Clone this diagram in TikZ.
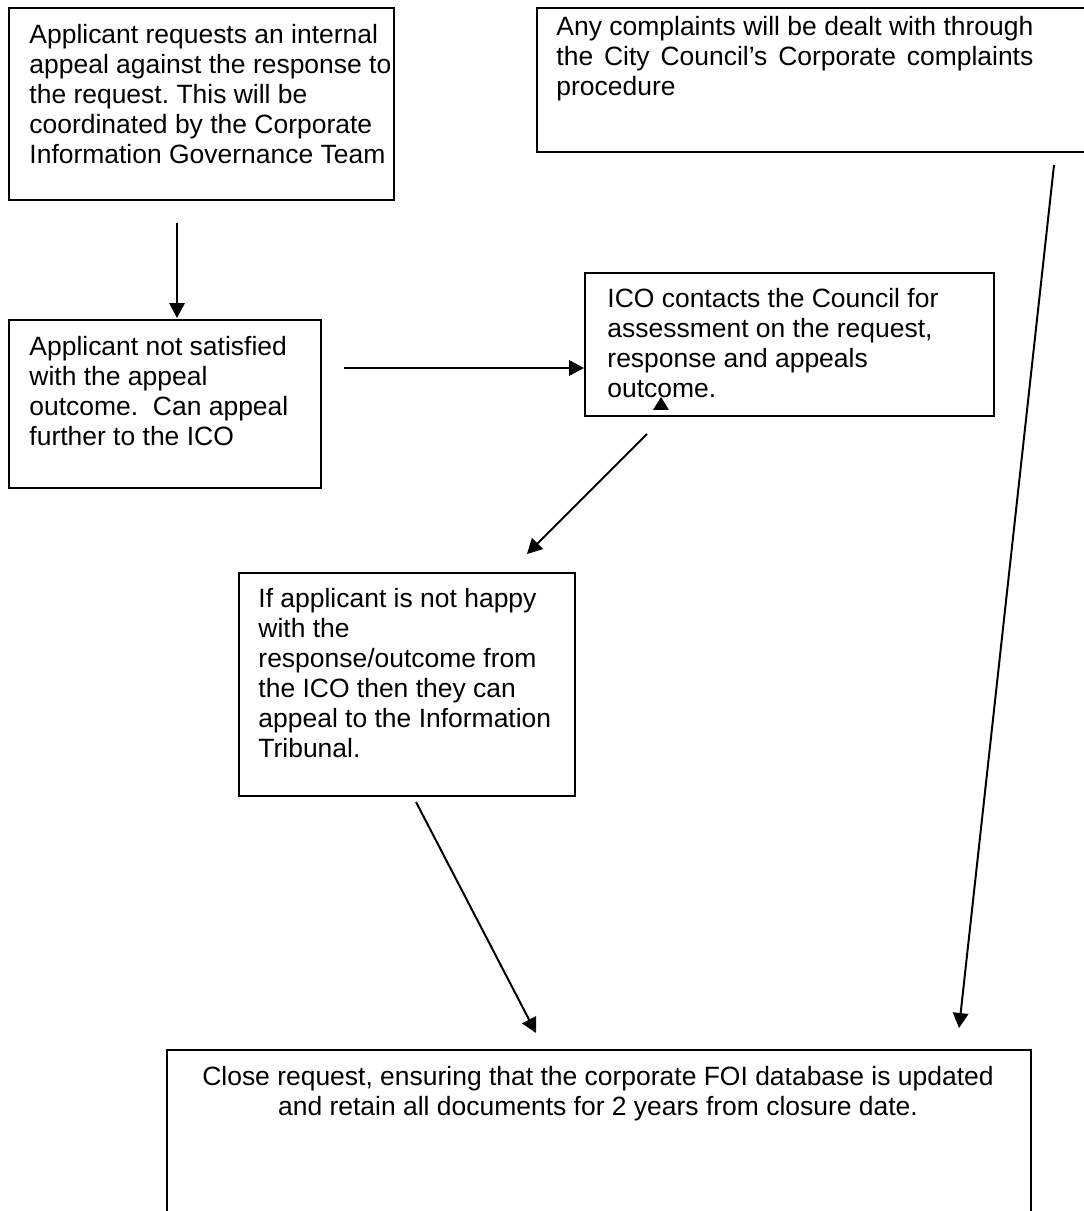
\documentclass[tikz,border=0pt]{standalone}
\usepackage{fontspec}
\setmainfont{Liberation Sans}
\usetikzlibrary{arrows.meta}
\def\u{0.4535pt}
\frenchspacing
\begin{document}
\begin{tikzpicture}[x=0.4535pt,y=-0.4535pt,
  box/.style={draw, line width=0.8pt, inner sep=0pt, anchor=north west},
  txt/.style={font=\fontsize{12}{13.6}\selectfont\frenchspacing, inner sep=0pt, align=left, anchor=north west},
  arr/.style={line width=0.9pt, -{Triangle[length=6.8pt,width=7pt]}}]
\useasboundingbox (0,0) rectangle (1084,1211);
\clip (0,0) rectangle (1084,1211);
% boxes
\node[box, minimum width=385*\u, minimum height=192*\u] (b1) at (8,7) {};
\node[box, minimum width=570*\u, minimum height=144*\u] (b2) at (536,7) {};
\node[box, minimum width=312*\u, minimum height=168*\u] (b3) at (8,319) {};
\node[box, minimum width=409*\u, minimum height=143*\u] (b4) at (584,272) {};
\node[box, minimum width=336*\u, minimum height=223*\u] (b5) at (238,572) {};
\node[box, minimum width=864*\u, minimum height=220*\u] (b6) at (166,1049) {};
% texts
\node[txt] (t1) at (29,24) {Applicant requests an internal\\appeal against the response to\\the request. This will be\\coordinated by the Corporate\\Information Governance Team};
\node[txt] (t2) at (556,16) {\makebox[216.3pt][s]{Any complaints will be dealt with through}\\\makebox[216.3pt][s]{the City Council’s Corporate complaints}\\procedure};
\node[txt] (t3) at (29,336) {Applicant not satisfied\\with the appeal\\outcome.\ \ Can appeal\\further to the ICO};
\node[txt] (t4) at (607,288) {ICO contacts the Council for\\assessment on the request,\\response and appeals\\outcome.};
\node[txt] (t5) at (258,588) {If applicant is not happy\\with the\\response/outcome from\\the ICO then they can\\appeal to the Information\\Tribunal.};
\node[txt, align=center, anchor=north] (t6) at (598,1066) {Close request, ensuring that the corporate FOI database is updated\\and retain all documents for 2 years from closure date.};
% connector end points
\coordinate (a1s) at (177,223); \coordinate (a1e) at (177,318);
\coordinate (a2s) at (344,368); \coordinate (a2e) at (584,368);
\coordinate (a3s) at (647,434); \coordinate (a3e) at (527,554);
\coordinate (a4s) at (416,802); \coordinate (a4e) at (536,1033);
\coordinate (a5s) at (1054,165); \coordinate (a5e) at (959,1028);
\draw[arr] (a1s) -- (a1e);
\draw[arr] (a2s) -- (a2e);
\draw[arr] (a3s) -- (a3e);
\draw[arr] (a4s) -- (a4e);
\draw[arr] (a5s) -- (a5e);
% stray arrowhead in ICO box
\fill (653,410) -- (669,410) -- (661,397) -- cycle;
\end{tikzpicture}
\end{document}
